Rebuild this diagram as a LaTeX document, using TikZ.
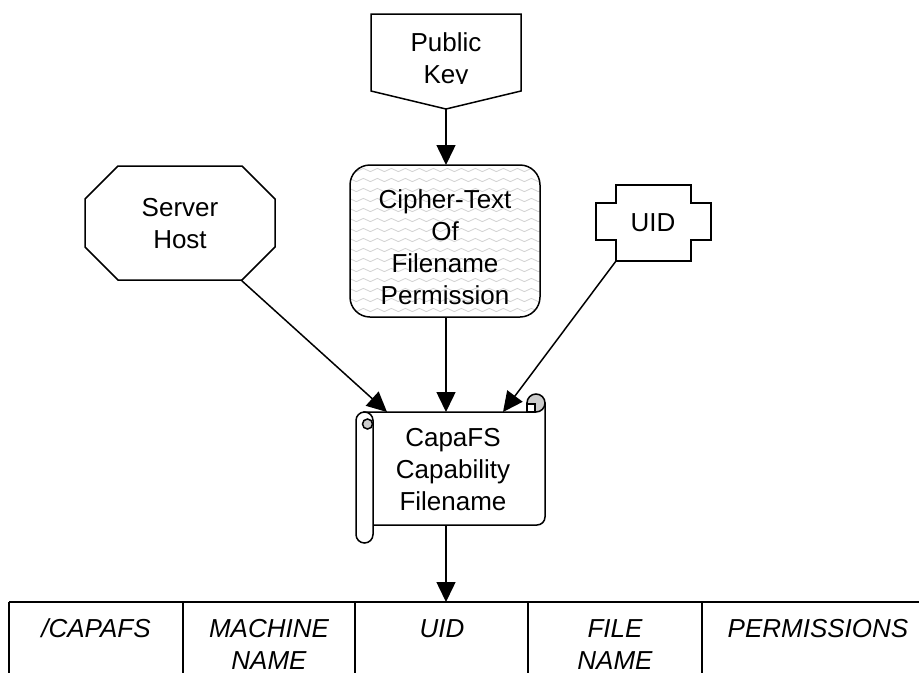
\documentclass[tikz,border=0pt]{standalone}
\usepackage{fontspec}
\setmainfont{Liberation Sans}
\usetikzlibrary{arrows.meta,decorations.pathmorphing}

\begin{document}
\begin{tikzpicture}[x=1pt,y=-1pt,
  outline/.style={draw=black,line width=1.5pt,line join=miter},
  label/.style={align=center,inner sep=0pt,font=\fontsize{26}{32}\selectfont},
  celltext/.style={align=center,inner sep=0pt,font=\fontsize{26}{32}\selectfont\itshape},
  flow/.style={line width=1.5pt,-{Triangle[length=20pt,width=19pt]}},
  grid/.style={line width=1.6pt},
  wave/.style={draw=gray!35,line width=0.8pt,decorate,
    decoration={snake,segment length=14pt,amplitude=1.6pt}}]
\useasboundingbox (0,0) rectangle (919,673);

% ---- Public key: off-page connector ----
\draw[outline,fill=white] (371,14) -- (521,14) -- (521,91) -- (446,109) -- (371,91) -- cycle;
\begin{scope}
  \clip (371,14) rectangle (521,83);
  \node[label] (key) at (446,61) {\strut Public\\\strut Key};
\end{scope}
\coordinate (keytip) at (446,109);

% ---- Cipher-text: rounded box with wavy texture ----
\begin{scope}
  \clip[rounded corners=20pt] (350,165) rectangle (540,317);
  \fill[white] (350,165) rectangle (540,317);
  \foreach \yy in {170,180,...,315}
    \draw[wave] (345,\yy) -- (545,\yy);
\end{scope}
\draw[outline,rounded corners=20pt] (350,165) rectangle (540,317);
\node[label] (cipher) at (445,250) {\strut Cipher-Text\\\strut Of\\\strut Filename\\\strut Permission};
\coordinate (ciphertop) at (446,165);
\coordinate (cipherbot) at (446,317);

% ---- Server host: octagon ----
\draw[outline,fill=white] (85,199) -- (118,166) -- (242,166) -- (275,199)
  -- (275,247) -- (242,280) -- (118,280) -- (85,247) -- cycle;
\node[label] (server) at (180,226) {\strut Server\\\strut Host};
\coordinate (srvcorner) at (241,280);

% ---- UID: cross-shaped box ----
\draw[outline,fill=white] (616,185) -- (691,185) -- (691,203) -- (711,203) -- (711,240)
  -- (691,240) -- (691,261) -- (616,261) -- (616,240) -- (596,240) -- (596,203)
  -- (616,203) -- cycle;
\node[label] (uid) at (653,225) {\strut UID};
\coordinate (uidcorner) at (616,261);

% ---- CapaFS capability filename: scroll ----
\draw[outline,fill=white] (364.5,412) -- (527,412) -- (527,403) -- (545,403)
  -- (545,517) arc[start angle=0,end angle=-90,radius=8pt] -- (373,525) -- (373,421) -- cycle;
\draw[outline,fill=gray!40] (536,403) circle[radius=9pt];
\draw[outline,fill=white] (527,404) rectangle (535,412);
\draw[outline,fill=white] (373,420.5) -- (373,534.5)
  arc[start angle=0,end angle=-180,radius=8.5pt] -- (356,420.5)
  arc[start angle=180,end angle=0,radius=8.5pt];
\draw[outline,fill=gray!40] (367.5,424) circle[radius=5pt];
\node[label] (capa) at (453,472) {\strut CapaFS\\\strut Capability\\\strut Filename};
\coordinate (scrollL) at (387,412);
\coordinate (scrollM) at (446,412);
\coordinate (scrollR) at (503,412);
\coordinate (scrollbot) at (446,525);

% ---- Name layout table ----
\draw[grid] (9,602) -- (919,602);
\foreach \xx in {9,183,355,528,702}
  \draw[grid] (\xx,602) -- (\xx,673);
\coordinate (tabletop) at (446,602);
\node[celltext] (c1) at (96,631) {\strut /CAPAFS};
\node[celltext] (c2) at (269,647) {\strut MACHINE\\\strut NAME};
\node[celltext] (c3) at (442,631) {\strut UID};
\node[celltext] (c4) at (615,647) {\strut FILE\\\strut NAME};
\node[celltext] (c5) at (818,631) {\strut PERMISSIONS};

% ---- Connectors ----
\draw[flow] (keytip) -- (ciphertop);
\draw[flow] (cipherbot) -- (scrollM);
\draw[flow] (srvcorner) -- (scrollL);
\draw[flow] (uidcorner) -- (scrollR);
\draw[flow] (scrollbot) -- (tabletop);
\end{tikzpicture}
\end{document}
